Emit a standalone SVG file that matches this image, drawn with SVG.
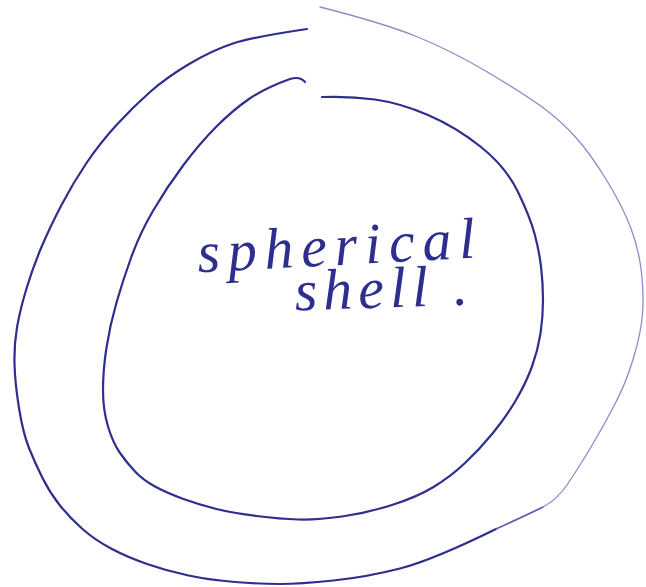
<svg xmlns="http://www.w3.org/2000/svg" width="646" height="587" viewBox="0 0 646 587">
  <style>
    .ink { fill: none; stroke: #2e2e8e; stroke-width: 2.2; stroke-linecap: round; stroke-linejoin: round; }
    .mid { fill: none; stroke: #5a5ab0; stroke-width: 1.7; stroke-linecap: round; stroke-linejoin: round; }
    .faint { fill: none; stroke: #8c8cca; stroke-width: 1.3; stroke-linecap: round; stroke-linejoin: round; }
    .hand { font-family: "Liberation Serif", "DejaVu Serif", serif; font-style: italic; font-size: 58px; fill: #2e2e8e; }
  </style>
  <rect width="646" height="587" fill="#ffffff"/>
  <g id="outer-shell">
    <path class="ink" d="M307,29 Q253,37 233,43.5 Q213,50 190,63.5 Q167,77 150,92 Q133,107 116.5,125 Q100,143 86.5,163 Q73,183 61.5,205 Q50,227 41.5,247 Q33,267 26.5,288.5 Q20,310 17,327.5 Q14,345 14.5,364 Q15,383 19,408 Q23,433 29,448 Q35,463 42.5,478 Q50,493 60,505.5 Q70,518 82.5,529 Q95,540 111,548.5 Q127,557 147,564 Q167,571 188.5,575.5 Q210,580 235,582 Q260,584 280,584 Q300,584 333.5,580.5 Q367,577 400,568.5 Q433,560 496,529"/>
    <path class="mid" d="M496,529 Q529,514 543,507"/>
    <path class="faint" d="M543,507 Q557,500 568,483.5 Q579,467 591,447 Q603,427 614.5,405 Q626,383 633.5,358 Q641,333 642.5,314 Q644,295 641.5,272.5 Q639,250 631,228.5 Q623,207 606.5,180 Q590,153 575,136.5 Q560,120 541.5,106.5 Q523,93 486.5,71.5 Q450,50 416.5,36.5 Q383,23 320,7"/>
  </g>
  <g id="inner-shell">
    <path class="ink" d="M305,82 Q300,76 290,79 Q265,88 249,99 Q233,110 216.5,126.5 Q200,143 183.5,165 Q167,187 153.5,210 Q140,233 131.5,256.5 Q123,280 116.5,302.5 Q110,325 106.5,347.5 Q103,370 103,390 Q103,410 108,426.5 Q113,443 120,453 Q127,463 135,471.5 Q143,480 155,486.5 Q167,493 183.5,499 Q200,505 216.5,509 Q233,513 256.5,516 Q280,519 298.5,519.5 Q317,520 342,516.5 Q367,513 392,505 Q417,497 433.5,487 Q450,477 464.5,463.5 Q479,450 492.5,433.5 Q506,417 516,400 Q526,383 532,366.5 Q538,350 540.5,333.5 Q543,317 543,300 Q543,283 541,266.5 Q539,250 534.5,233.5 Q530,217 518,192 Q506,167 481,147 Q456,127 428,115 Q400,103 375,99.5 Q350,96 322,97"/>
  </g>
  <g id="label">
    <text class="hand" x="198" y="265" textLength="278" lengthAdjust="spacing" transform="rotate(-3 338 262)">spherical</text>
    <text class="hand" x="295" y="308" letter-spacing="6" transform="rotate(-2 370 305)">shell<tspan x="454" letter-spacing="0">.</tspan></text>
  </g>
</svg>
